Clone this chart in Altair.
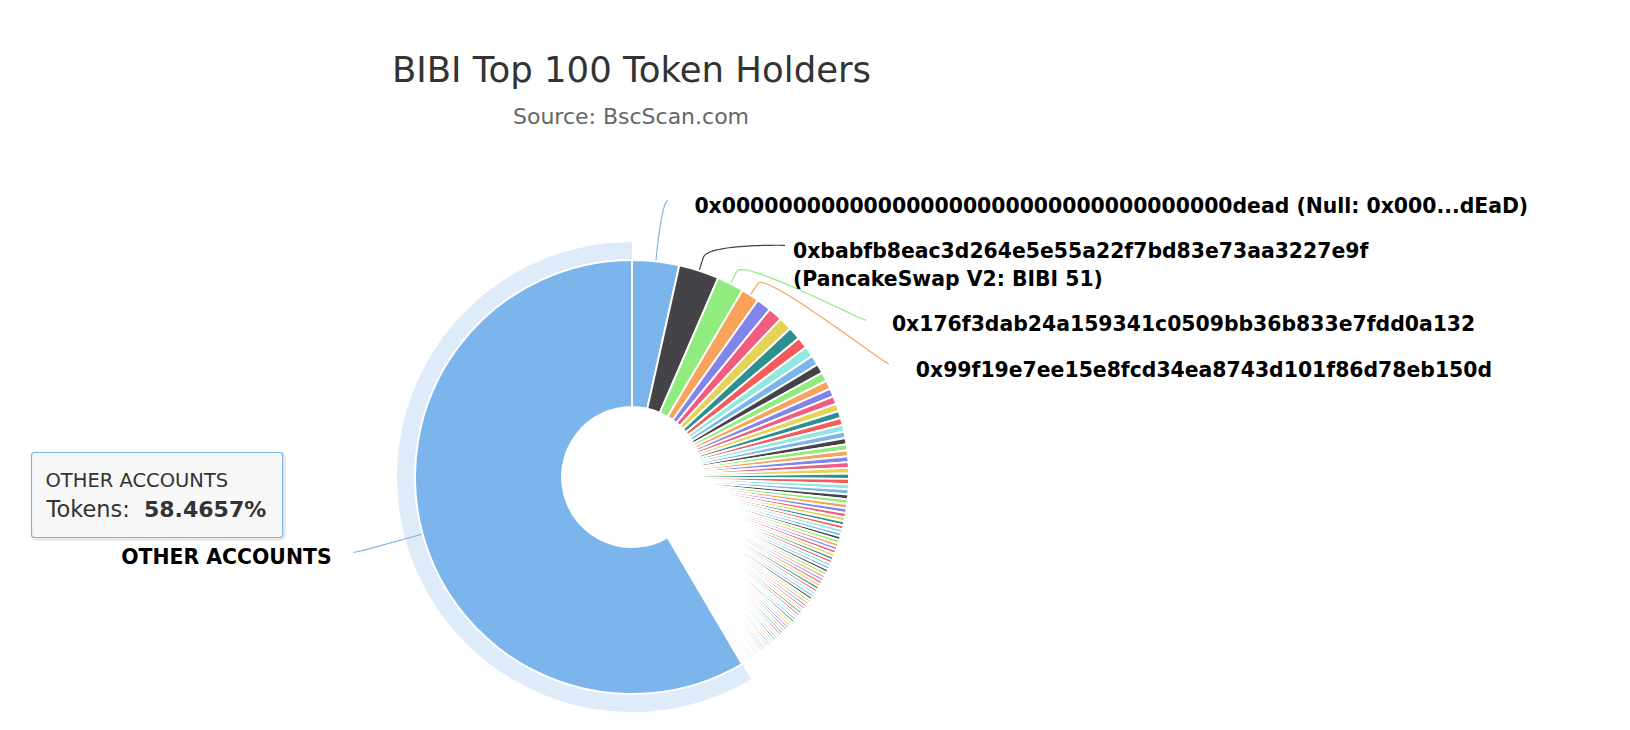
import math
import altair as alt
import pandas as pd

# ---------------- data ----------------
TITLE = "BIBI Top 100 Token Holders"
SUBTITLE = "Source: BscScan.com"

# share (%) of the top 100 holders, in rank order
HOLDER_SHARES = [
    3.50, 3.00, 2.00, 1.35, 1.10, 1.05, 1.00, 0.95, 0.85, 0.78,
    0.74, 0.70, 0.67, 0.64, 0.61, 0.58, 0.56, 0.54, 0.52, 0.50,
    0.48, 0.47, 0.45, 0.44, 0.43, 0.42, 0.41, 0.40, 0.39, 0.38,
    0.37, 0.36, 0.35, 0.34, 0.33, 0.32, 0.31, 0.30, 0.29, 0.28,
    0.27, 0.27, 0.27, 0.265, 0.26, 0.26, 0.26, 0.255, 0.255, 0.25,
    0.25, 0.245, 0.243, 0.240, 0.238, 0.236, 0.234, 0.232, 0.230, 0.228,
    0.226, 0.224, 0.221, 0.219, 0.217, 0.215, 0.213, 0.211, 0.209, 0.207,
    0.205, 0.203, 0.200, 0.198, 0.196, 0.194, 0.192, 0.190, 0.188, 0.186,
    0.184, 0.181, 0.179, 0.177, 0.175, 0.173, 0.171, 0.169, 0.166, 0.164,
    0.162, 0.160, 0.158, 0.156, 0.154, 0.152, 0.150, 0.149, 0.148, 0.1413,
]
OTHER_NAME = "OTHER ACCOUNTS"
OTHER_SHARE = 58.4657

# labels shown in the chart (holder rank -> label lines)
LABELED_RANKS = [0, 1, 2, 3]
LABEL_LINES = [
    ["0x000000000000000000000000000000000000dead (Null: 0x000...dEaD)"],
    ["0xbabfb8eac3d264e5e55a22f7bd83e73aa3227e9f", "(PancakeSwap V2: BIBI 51)"],
    ["0x176f3dab24a159341c0509bb36b833e7fdd0a132"],
    ["0x99f19e7ee15e8fcd34ea8743d101f86d78eb150d"],
]

# ---------------- style / layout ----------------
PALETTE = ["#7cb5ec", "#434348", "#90ed7d", "#f7a35c", "#8085e9",
           "#f15c80", "#e4d354", "#2b908f", "#f45b5b", "#91e8e1"]
FONT = "DejaVu Sans"
OFF = 8  # page margin
W, H = 1612, 712
CX, CY = 632 - OFF, 477 - OFF
R_OUT, R_IN, R_HALO = 217, 70, 235
BREAK = 14
LABEL_SIZE = 20.4

# label anchor (connector end) and text start, in page px
LABEL_ANCHORS = [(668, 200.6), (785, 245.3), (866, 320.2), (889, 363.8)]
LABEL_TEXT_X = [694.4, 793, 891.9, 915.8]
LABEL_TEXT_Y = [206.5, 252.3, 325, 370.8]
LINE_GAP = 28
OTHER_ANCHOR = (353.3, 552.3)
OTHER_TEXT = (331.6, 557.8)

# ---------------- tables ----------------
shares = HOLDER_SHARES + [OTHER_SHARE]
names = [f"Holder {i + 1}" for i in range(len(HOLDER_SHARES))] + [OTHER_NAME]
for r, lines in zip(LABELED_RANKS, LABEL_LINES):
    names[r] = " ".join(lines)
pie_df = pd.DataFrame({"idx": list(range(len(shares))), "name": names, "share": shares})
total = sum(shares)

cum = []
acc = 0.0
for s in shares:
    cum.append((acc, acc + s))
    acc += s


def mid_angle(i):
    a0, a1 = cum[i]
    return (a0 + a1) / 2 / total * 2 * math.pi


def connector(i, anchor, left_aligned=True):
    a = mid_angle(i)
    sx, sy = math.sin(a), -math.cos(a)
    tx, ty = CX + R_OUT * sx, CY + R_OUT * sy
    bx, by = tx + BREAK * sx, ty + BREAK * sy
    lx, ly = anchor[0] - OFF, anchor[1] - OFF
    c1 = (lx + (-5 if left_aligned else 5), ly)
    c2 = (2 * bx - tx, 2 * by - ty)
    pts = []
    n = 30
    for k in range(n + 1):
        t = k / n
        u = 1 - t
        x = u**3 * lx + 3 * u * u * t * c1[0] + 3 * u * t * t * c2[0] + t**3 * bx
        y = u**3 * ly + 3 * u * u * t * c1[1] + 3 * u * t * t * c2[1] + t**3 * by
        pts.append((x, y))
    pts.append((tx, ty))
    return pts


conn_rows = []
for r, anc in zip(LABELED_RANKS, LABEL_ANCHORS):
    for k, (x, y) in enumerate(connector(r, anc, True)):
        conn_rows.append({"cid": r, "k": k, "px": x, "py": y, "col": PALETTE[r % 10]})
oi = len(shares) - 1
for k, (x, y) in enumerate(connector(oi, OTHER_ANCHOR, False)):
    conn_rows.append({"cid": oi, "k": k, "px": x, "py": y, "col": PALETTE[oi % 10]})
conn_df = pd.DataFrame(conn_rows)

lab_rows = []
for j, lines in enumerate(LABEL_LINES):
    for m, line in enumerate(lines):
        lab_rows.append({"text": line, "tx": LABEL_TEXT_X[j] - OFF,
                         "ty": LABEL_TEXT_Y[j] - OFF + m * LINE_GAP})
lab_df = pd.DataFrame(lab_rows)

# ---------------- layers ----------------
base = alt.Chart(pie_df).transform_calculate(slot="datum.idx % 10").encode(
    theta=alt.Theta("share:Q", stack=True),
    order=alt.Order("idx:Q", sort="ascending"),
    color=alt.Color("slot:N", scale=alt.Scale(domain=list(range(10)), range=PALETTE), legend=None),
    x=alt.value(CX),
    y=alt.value(CY),
)

conns = alt.Chart(conn_df).mark_line(strokeWidth=1.2, interpolate="linear").encode(
    x=alt.X("px:Q", scale=None, axis=None),
    y=alt.Y("py:Q", scale=None, axis=None),
    detail="cid:N",
    order="k:Q",
    stroke=alt.Stroke("col:N", scale=None),
)

halo = base.mark_arc(outerRadius=R_HALO, innerRadius=R_OUT, strokeWidth=0).encode(
    opacity=alt.condition(f"datum.idx == {oi}", alt.value(0.25), alt.value(0))
)

pie = base.mark_arc(outerRadius=R_OUT, innerRadius=R_IN, stroke="white", strokeWidth=1.9)

labels = alt.Chart(lab_df).mark_text(
    align="left", baseline="middle", font=FONT, fontWeight="bold", fontSize=LABEL_SIZE, color="#000"
).encode(x=alt.X("tx:Q", scale=None, axis=None), y=alt.Y("ty:Q", scale=None, axis=None), text="text:N")

other_label = alt.Chart(pd.DataFrame({"text": [OTHER_NAME]})).mark_text(
    align="right", baseline="middle", font=FONT, fontWeight="bold", fontSize=LABEL_SIZE, color="#000"
).encode(x=alt.value(OTHER_TEXT[0] - OFF), y=alt.value(OTHER_TEXT[1] - OFF), text="text:N")

title = alt.Chart(pd.DataFrame({"t": [TITLE]})).mark_text(
    align="center", baseline="middle", font=FONT, fontSize=35.5, color="#333333"
).encode(x=alt.value(631.5 - OFF), y=alt.value(70.5 - OFF), text="t:N")

subtitle = alt.Chart(pd.DataFrame({"t": [SUBTITLE]})).mark_text(
    align="center", baseline="middle", font=FONT, fontSize=22, color="#666666"
).encode(x=alt.value(631 - OFF), y=alt.value(117.3 - OFF), text="t:N")

# tooltip box
TX0, TY0, TX1, TY1 = 31.5 - OFF, 452.5 - OFF, 282.7 - OFF, 537.5 - OFF
one = pd.DataFrame({"a": [0]})
tip_shadow = alt.Chart(one).mark_rect(
    fillOpacity=0, stroke="#000000", strokeOpacity=0.08, strokeWidth=4, cornerRadius=4
).encode(x=alt.value(TX0 + 1.5), x2=alt.value(TX1 + 1.5), y=alt.value(TY0 + 1.5), y2=alt.value(TY1 + 1.5))
tip_box = alt.Chart(one).mark_rect(
    fill="#f7f7f7", fillOpacity=0.9, stroke="#7cb5ec", strokeWidth=1.2, cornerRadius=3
).encode(x=alt.value(TX0), x2=alt.value(TX1), y=alt.value(TY0), y2=alt.value(TY1))

tip_df = pd.DataFrame({"name": [OTHER_NAME], "share": [OTHER_SHARE]})
tip_head = alt.Chart(tip_df).mark_text(
    align="left", baseline="alphabetic", font=FONT, fontSize=19.5, color="#333333"
).encode(x=alt.value(45.5 - OFF), y=alt.value(486.7 - OFF), text="name:N")
tip_key = alt.Chart(tip_df).mark_text(
    align="left", baseline="alphabetic", font=FONT, fontSize=22.5, color="#333333"
).encode(x=alt.value(46.5 - OFF), y=alt.value(516.7 - OFF), text=alt.value("Tokens:"))
tip_val = alt.Chart(tip_df).transform_calculate(
    lab="format(datum.share, '.4f') + '%'"
).mark_text(
    align="left", baseline="alphabetic", font=FONT, fontSize=22, fontWeight="bold", color="#333333"
).encode(x=alt.value(144 - OFF), y=alt.value(516.7 - OFF), text="lab:N")

chart = alt.layer(
    conns, halo, pie, labels, other_label, title, subtitle,
    tip_shadow, tip_box, tip_head, tip_key, tip_val
).properties(
    width=W, height=H, padding=0, autosize=alt.AutoSizeParams(type="none"), background="white"
).configure_view(stroke=None)

chart.save("out.html", embed_options={"renderer": "svg", "actions": False})
